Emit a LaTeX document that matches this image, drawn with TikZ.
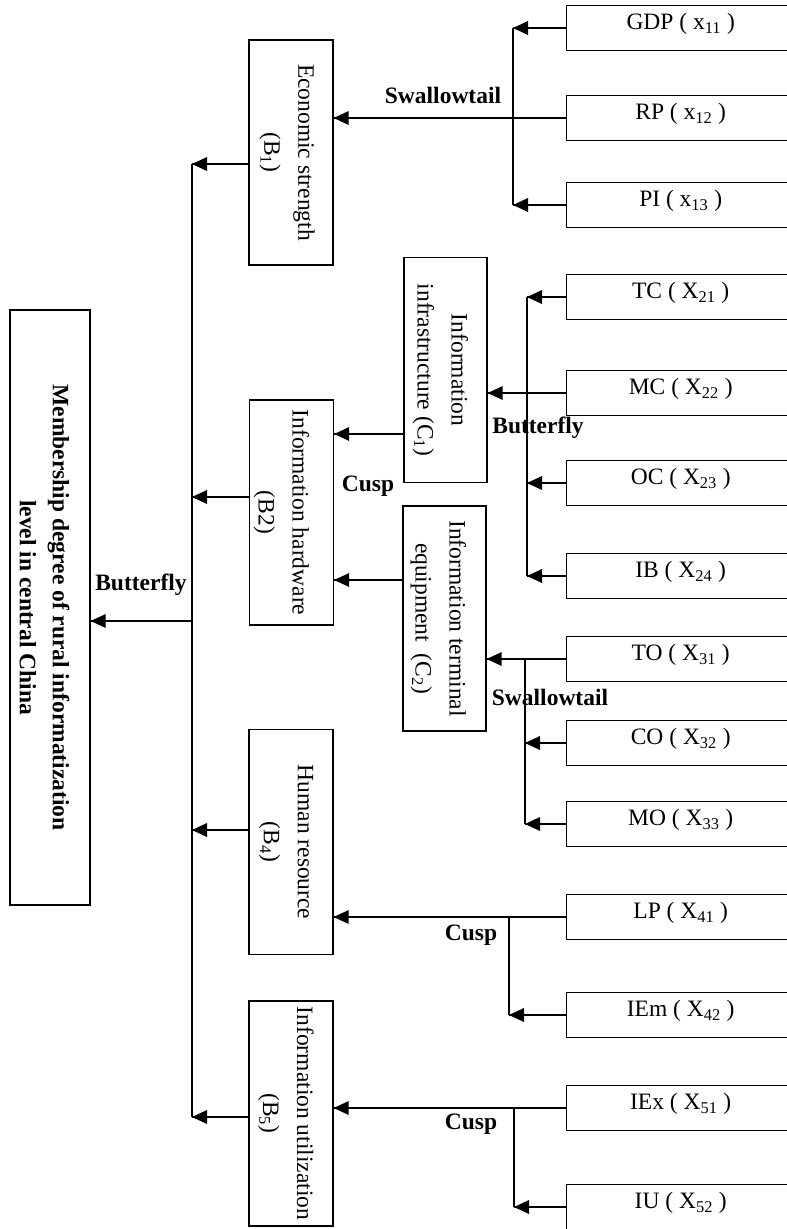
\documentclass[tikz,border=0pt]{standalone}
\usepackage{fontspec}
\setmainfont{Liberation Serif}

\begin{document}
\begin{tikzpicture}[x=1pt,y=-1pt,line width=1.8pt]
\tikzstyle{every node}+=[inner sep=0pt,font=\fontsize{23.5}{34}\selectfont]
\tikzstyle{catbox}=[draw,line width=1.4pt,minimum width=84pt,minimum height=225pt]
\tikzstyle{cattext}=[rotate=-90,align=center]
\tikzstyle{leaf}=[draw,line width=1.4pt,anchor=west,minimum width=228pt,text height=24pt,text depth=21pt]
\tikzstyle{kind}=[font=\fontsize{23.5}{28}\selectfont\bfseries]
\useasboundingbox (0,0) rectangle (787,1229);
\node [draw,line width=1.4pt,minimum width=80pt,minimum height=595pt] (root) at (50,607.5) {};
\node [cattext,font=\fontsize{23.5}{33}\selectfont\bfseries] (roott) at ([xshift=-5.5pt]root.center) {Membership degree of rural informatization\\level in central China};
\node [catbox] (b1) at (291,152.5) {};
\node [cattext] (b1t) at ([xshift=-4pt]b1.center) {Economic strength\\(B\textsubscript{1})};
\node [catbox] (b2) at (291.5,512.5) {};
\node [cattext] (b2t) at ([xshift=-10pt]b2.center) {Information hardware\\(B2)};
\node [catbox] (b4) at (291,842) {};
\node [cattext] (b4t) at ([xshift=-5pt]b4.center) {Human resource\\(B\textsubscript{4})};
\node [catbox] (b5) at (291,1113.5) {};
\node [cattext] (b5t) at ([xshift=-5pt]b5.center) {Information utilization\\(B\textsubscript{5})};
\node [catbox,minimum width=83pt] (c1) at (445.5,370) {};
\node [cattext] (c1t) at ([xshift=-5pt]c1.center) {Information\\infrastructure (C\textsubscript{1})};
\node [catbox,minimum width=83pt] (c2) at (444.5,618.5) {};
\node [cattext] (c2t) at ([xshift=-6pt]c2.center) {Information terminal\\equipment\ \ (C\textsubscript{2})};
\node [leaf] (x11) at (566,28) {GDP ( x\textsubscript{11} )};
\node [leaf] (x12) at (566,118) {RP ( x\textsubscript{12} )};
\node [leaf] (x13) at (566,205) {PI ( x\textsubscript{13} )};
\node [leaf] (x21) at (566,297) {TC ( X\textsubscript{21} )};
\node [leaf] (x22) at (566,393) {MC ( X\textsubscript{22} )};
\node [leaf] (x23) at (566,483) {OC ( X\textsubscript{23} )};
\node [leaf] (x24) at (566,576) {IB ( X\textsubscript{24} )};
\node [leaf] (x31) at (566,659) {TO ( X\textsubscript{31} )};
\node [leaf] (x32) at (566,743) {CO ( X\textsubscript{32} )};
\node [leaf] (x33) at (566,824) {MO ( X\textsubscript{33} )};
\node [leaf] (x41) at (566,917) {LP ( X\textsubscript{41} )};
\node [leaf] (x42) at (566,1015) {IEm ( X\textsubscript{42} )};
\node [leaf] (x51) at (566,1108) {IEx ( X\textsubscript{51} )};
\node [leaf] (x52) at (566,1207) {IU ( X\textsubscript{52} )};
\node [kind] (l0) at (141,585) {Butterfly};
\node [kind] (l1) at (443,95) {Swallowtail};
\node [kind] (l2) at (538,428) {Butterfly};
\node [kind] (l3) at (550,697) {Swallowtail};
\node [kind] (l4) at (368,486) {Cusp};
\node [kind] (l5) at (471,935) {Cusp};
\node [kind] (l6) at (471,1124) {Cusp};
\coordinate (k0) at (192,621);
\coordinate (k1) at (192,164);
\coordinate (k2) at (192,497);
\coordinate (k3) at (192,830);
\coordinate (k4) at (192,1117);
\coordinate (m1) at (0,434);
\coordinate (m2) at (0,580);
\coordinate (j1) at (513,0);
\coordinate (j2) at (527,0);
\coordinate (j3) at (525,0);
\coordinate (j4) at (509,0);
\coordinate (j5) at (514,0);
\draw (k1) -- (k4);
\draw (k1 -| b1.west) -- (k1);
\fill (k1) -- ++(15,-7) -- ++(0,14) -- cycle;
\draw (k2 -| b2.west) -- (k2);
\fill (k2) -- ++(15,-7) -- ++(0,14) -- cycle;
\draw (k3 -| b4.west) -- (k3);
\fill (k3) -- ++(15,-7) -- ++(0,14) -- cycle;
\draw (k4 -| b5.west) -- (k4);
\fill (k4) -- ++(15,-7) -- ++(0,14) -- cycle;
\draw (k0) -- (k0 -| root.east);
\fill (k0 -| root.east) -- ++(15,-7) -- ++(0,14) -- cycle;
\draw (m1 -| c1.west) -- (m1 -| b2.east);
\fill (m1 -| b2.east) -- ++(15,-7) -- ++(0,14) -- cycle;
\draw (m2 -| c2.west) -- (m2 -| b2.east);
\fill (m2 -| b2.east) -- ++(15,-7) -- ++(0,14) -- cycle;
\draw (x11.west -| j1) -- (x13.west -| j1);
\draw (x11.west) -- (x11.west -| j1);
\fill (x11.west -| j1) -- ++(15,-7) -- ++(0,14) -- cycle;
\draw (x13.west) -- (x13.west -| j1);
\fill (x13.west -| j1) -- ++(15,-7) -- ++(0,14) -- cycle;
\draw (x12.west) -- (x12.west -| b1.east);
\fill (x12.west -| b1.east) -- ++(15,-7) -- ++(0,14) -- cycle;
\draw (x21.west -| j2) -- (x24.west -| j2);
\draw (x21.west) -- (x21.west -| j2);
\fill (x21.west -| j2) -- ++(15,-7) -- ++(0,14) -- cycle;
\draw (x23.west) -- (x23.west -| j2);
\fill (x23.west -| j2) -- ++(15,-7) -- ++(0,14) -- cycle;
\draw (x24.west) -- (x24.west -| j2);
\fill (x24.west -| j2) -- ++(15,-7) -- ++(0,14) -- cycle;
\draw (x22.west) -- (x22.west -| c1.east);
\fill (x22.west -| c1.east) -- ++(15,-7) -- ++(0,14) -- cycle;
\draw (x31.west -| j3) -- (x33.west -| j3);
\draw (x31.west) -- (x31.west -| c2.east);
\fill (x31.west -| c2.east) -- ++(15,-7) -- ++(0,14) -- cycle;
\draw (x32.west) -- (x32.west -| j3);
\fill (x32.west -| j3) -- ++(15,-7) -- ++(0,14) -- cycle;
\draw (x33.west) -- (x33.west -| j3);
\fill (x33.west -| j3) -- ++(15,-7) -- ++(0,14) -- cycle;
\draw (x41.west -| j4) -- (x42.west -| j4);
\draw (x41.west) -- (x41.west -| b4.east);
\fill (x41.west -| b4.east) -- ++(15,-7) -- ++(0,14) -- cycle;
\draw (x42.west) -- (x42.west -| j4);
\fill (x42.west -| j4) -- ++(15,-7) -- ++(0,14) -- cycle;
\draw (x51.west -| j5) -- (x52.west -| j5);
\draw (x51.west) -- (x51.west -| b5.east);
\fill (x51.west -| b5.east) -- ++(15,-7) -- ++(0,14) -- cycle;
\draw (x52.west) -- (x52.west -| j5);
\fill (x52.west -| j5) -- ++(15,-7) -- ++(0,14) -- cycle;
\end{tikzpicture}
\end{document}
